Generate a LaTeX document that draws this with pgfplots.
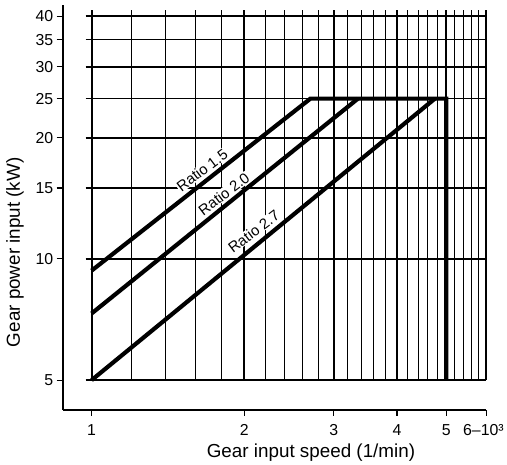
\documentclass[border=0pt]{standalone}
\usepackage{fontspec}
\setmainfont{Liberation Sans}
\usepackage{pgfplots}
\pgfplotsset{compat=1.18}
\begin{document}
\begin{tikzpicture}
\begin{axis}[
  scale only axis, width=426bp, height=407bp,
  xmode=log, ymode=log,
  xmin=0.877, xmax=6, ymin=4.22, ymax=42.7,
  axis x line*=bottom, axis y line*=left,
  axis line style={line width=1.8bp, -},
  xtick={1,2,3,4,5,6}, xticklabels={1,2,3,4,5,\hspace*{-6bp}6–10³},
  ytick={5,10,15,20,25,30,35,40}, yticklabels={5,10,15,20,25,30,35,40},
  xminorticks=false, yminorticks=false,
  tick align=outside, major tick length=6bp,
  tick style={line width=1.2bp, black},
  ticklabel style={font=\fontsize{16}{18}\selectfont},
  xticklabel style={yshift=-5bp},
  /pgf/number format/assume math mode=true,
  xlabel={Gear input speed (1/min)},
  ylabel={Gear power input (kW)},
  label style={font=\fontsize{19}{21}\selectfont},
  xlabel style={at={(axis description cs:0.586,-0.1057)}, anchor=center},
  ylabel style={at={(axis description cs:-0.1127,0.389)}, anchor=center},
  clip=false,
]
% thin vertical grid
\pgfplotsinvokeforeach{1.2,1.4,1.6,1.8,2.2,2.4,2.6,2.8,3.2,3.4,3.6,3.8,4.2,4.4,4.6,4.8,5.2,5.4,5.6,5.8}{
  \addplot[black, line width=1bp] coordinates {(#1,5) (#1,41.5)};
}
% major vertical grid
\pgfplotsinvokeforeach{1,2,3,4,5,6}{
  \addplot[black, line width=1.9bp] coordinates {(#1,5) (#1,41.5)};
}
% horizontal grid
\pgfplotsinvokeforeach{15,25,35}{
  \addplot[black, line width=1.3bp] coordinates {(0.973,#1) (6,#1)};
}
\pgfplotsinvokeforeach{10,20,30,40}{
  \addplot[black, line width=1.9bp] coordinates {(0.973,#1) (6,#1)};
}
\addplot[black, line width=2.4bp] coordinates {(0.973,5) (6,5)};
% curves
\addplot[black, line width=4.2bp, line join=miter] coordinates {(1,9.35) (2.7,25) (5,25) (5,5)};
\addplot[black, line width=4.2bp] coordinates {(1,7.32) (3.35,25)};
\addplot[black, line width=4.2bp] coordinates {(1,5) (4.75,25)};
% labels
\node[rotate=37, fill=white, inner sep=0.5bp, font=\fontsize{15}{17}\selectfont] at (axis cs:1.651,16.6) {Ratio 1.5};
\node[rotate=37, fill=white, inner sep=0.5bp, font=\fontsize{15}{17}\selectfont] at (axis cs:1.823,14.5) {Ratio 2.0};
\node[rotate=37, fill=white, inner sep=0.5bp, font=\fontsize{15}{17}\selectfont] at (axis cs:2.087,11.7) {Ratio 2.7};
\end{axis}
\path ([xshift=-63bp,yshift=-52bp]current axis.south west) rectangle ([xshift=18bp,yshift=5bp]current axis.north east);
\end{tikzpicture}
\end{document}
